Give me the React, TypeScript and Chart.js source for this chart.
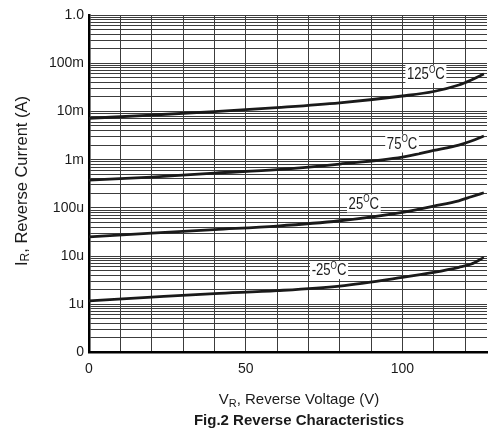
import React, { useEffect, useRef } from 'react';
import { Chart, registerables } from 'chart.js';
Chart.register(...registerables);

// ---- data ----
const voltages = [0, 20, 40, 60, 80, 100, 110, 118, 122, 126];
const current125 = [7.19e-3, 8.41e-3, 9.95e-3, 1.205e-2, 1.51e-2, 2.09e-2, 2.59e-2, 3.53e-2, 4.48e-2, 5.97e-2];
const current75 = [3.77e-4, 4.36e-4, 5.27e-4, 6.23e-4, 8.1e-4, 1.13e-3, 1.55e-3, 2.01e-3, 2.43e-3, 3.09e-3];
const current25 = [2.51e-5, 3.0e-5, 3.55e-5, 4.19e-5, 5.4e-5, 8.1e-5, 1.09e-4, 1.4e-4, 1.7e-4, 2.06e-4];
const currentM25 = [1.18e-6, 1.41e-6, 1.67e-6, 1.92e-6, 2.39e-6, 3.61e-6, 4.59e-6, 5.83e-6, 6.83e-6, 9.4e-6];

const seriesNames = ['125', '75', '25', '-25'];
const labelVoltages = [107.5, 99.9, 87.7, 76.6];
const labelCurrents = [5.97e-2, 2.16e-3, 1.23e-4, 5.13e-6];

const xTickValues = [0, 10, 20, 30, 40, 50, 60, 70, 80, 90, 100, 110, 120];
const xLabelledTicks = [0, 50, 100];
const xMin = 0;
const xMax = 127;

const yDecades = [-7, -6, -5, -4, -3, -2, -1, 0];
const yTickLabels = ['0', '1u', '10u', '100u', '1m', '10m', '100m', '1.0'];

const xTitleMain = 'V';
const xTitleSub = 'R';
const xTitleRest = ', Reverse Voltage (V)';
const yTitleMain = 'I';
const yTitleSub = 'R';
const yTitleRest = ', Reverse Current (A)';
const figTitle = 'Fig.2 Reverse Characteristics';

const FONT = '"Liberation Sans", Arial, Helvetica, sans-serif';

function yGridValues(): number[] {
  const out: number[] = [];
  for (let i = 0; i < yDecades.length; i++) {
    const e = yDecades[i];
    if (e === 0) { out.push(1); break; }
    for (let m = 1; m <= 9; m++) out.push(m * Math.pow(10, e));
  }
  return out;
}

function drawSubText(ctx: CanvasRenderingContext2D, main: string, sub: string, rest: string, cx: number, cy: number, size: number) {
  const mainFont = `${size}px ${FONT}`;
  const subFont = `${Math.round(size * 0.72)}px ${FONT}`;
  ctx.font = mainFont;
  const w1 = ctx.measureText(main).width;
  const w3 = ctx.measureText(rest).width;
  ctx.font = subFont;
  const w2 = ctx.measureText(sub).width;
  const total = w1 + w2 + w3;
  let x = cx - total / 2;
  ctx.textAlign = 'left';
  ctx.textBaseline = 'middle';
  ctx.fillStyle = '#1a1a1a';
  ctx.font = mainFont;
  ctx.fillText(main, x, cy);
  x += w1;
  ctx.font = subFont;
  ctx.fillText(sub, x, cy + size * 0.25);
  x += w2;
  ctx.font = mainFont;
  ctx.fillText(rest, x, cy);
}

const textPlugin = {
  id: 'customTexts',
  afterDatasetsDraw(chart: any) {
    const ctx: CanvasRenderingContext2D = chart.ctx;
    const xs = chart.scales.x;
    const ys = chart.scales.y;
    ctx.save();
    for (let i = 0; i < seriesNames.length; i++) {
      const px = xs.getPixelForValue(labelVoltages[i]);
      const py = ys.getPixelForValue(labelCurrents[i]);
      ctx.save();
      ctx.translate(px, py);
      ctx.scale(0.82, 1);
      const mainFont = `16px ${FONT}`;
      const supFont = `10px ${FONT}`;
      ctx.font = mainFont;
      const w1 = ctx.measureText(seriesNames[i]).width;
      const w3 = ctx.measureText('C').width;
      ctx.font = supFont;
      const w2 = ctx.measureText('O').width;
      const total = w1 + w2 + w3;
      ctx.fillStyle = '#ffffff';
      ctx.fillRect(-total / 2 - 2, -9, total + 4, 18);
      ctx.fillStyle = '#1a1a1a';
      ctx.textBaseline = 'middle';
      ctx.textAlign = 'left';
      let x = -total / 2;
      ctx.font = mainFont;
      ctx.fillText(seriesNames[i], x, 1);
      x += w1;
      ctx.font = supFont;
      ctx.fillText('O', x, -4);
      x += w2;
      ctx.font = mainFont;
      ctx.fillText('C', x, 1);
      ctx.restore();
    }
    ctx.restore();
  },
  afterDraw(chart: any) {
    const ctx: CanvasRenderingContext2D = chart.ctx;
    ctx.save();
    drawSubText(ctx, xTitleMain, xTitleSub, xTitleRest, 299, 400, 15);
    ctx.font = `bold 15px ${FONT}`;
    ctx.textAlign = 'center';
    ctx.textBaseline = 'middle';
    ctx.fillStyle = '#1a1a1a';
    ctx.fillText(figTitle, 299, 421);
    ctx.save();
    ctx.translate(22, 181);
    ctx.rotate(-Math.PI / 2);
    drawSubText(ctx, yTitleMain, yTitleSub, yTitleRest, 0, 0, 16.5);
    ctx.restore();
    ctx.restore();
  },
};

export default function App() {
  const ref = useRef<HTMLCanvasElement | null>(null);
  useEffect(() => {
    if (!ref.current) return;
    const mk = (data: number[]) => ({
      data: voltages.map((v, i) => ({ x: v, y: data[i] })),
      borderColor: '#1a1a1a',
      backgroundColor: '#1a1a1a',
      borderWidth: 2.8,
      pointRadius: 0,
      cubicInterpolationMode: 'monotone' as const,
      fill: false,
    });
    const chart = new Chart(ref.current, {
      type: 'line',
      data: {
        datasets: [mk(current125), mk(current75), mk(current25), mk(currentM25)],
      },
      options: {
        animation: false,
        responsive: true,
        maintainAspectRatio: false,
        layout: { padding: { top: 15, right: 2, left: 0, bottom: 0 } },
        plugins: { legend: { display: false }, tooltip: { enabled: false }, title: { display: false } },
        scales: {
          x: {
            type: 'linear',
            min: xMin,
            max: xMax,
            afterBuildTicks: (axis: any) => {
              axis.ticks = xTickValues.map((v) => ({ value: v }));
            },
            afterFit: (scale: any) => { scale.height = 85.5; },
            ticks: {
              autoSkip: false,
              maxRotation: 0,
              padding: 8,
              color: '#1a1a1a',
              font: { size: 14, family: FONT },
              callback: (v: any) => (xLabelledTicks.includes(Number(v)) ? String(v) : ''),
            },
            grid: { color: '#3c3c3c', lineWidth: 1, drawTicks: false },
            border: { color: '#000', width: 2.5 },
          },
          y: {
            type: 'logarithmic',
            min: Math.pow(10, yDecades[0]),
            max: Math.pow(10, yDecades[yDecades.length - 1]),
            afterBuildTicks: (axis: any) => {
              axis.ticks = yGridValues().map((v) => ({ value: v }));
            },
            afterFit: (scale: any) => { scale.width = 89; },
            ticks: {
              autoSkip: false,
              padding: 5,
              color: '#1a1a1a',
              font: { size: 14, family: FONT },
              callback: (v: any) => {
                const lg = Math.log10(Number(v));
                const r = Math.round(lg);
                if (Math.abs(lg - r) < 1e-6) {
                  const idx = yDecades.indexOf(r);
                  return idx >= 0 ? yTickLabels[idx] : '';
                }
                return '';
              },
            },
            grid: { color: '#3c3c3c', lineWidth: 1, drawTicks: false },
            border: { color: '#000', width: 2.5 },
          },
        },
      } as any,
      plugins: [textPlugin],
    });
    return () => chart.destroy();
  }, []);
  return (
    <div style={{ position: 'absolute', left: 0, top: 0, width: 489, height: 438, background: '#fff' }}>
      <canvas ref={ref} />
    </div>
  );
}
